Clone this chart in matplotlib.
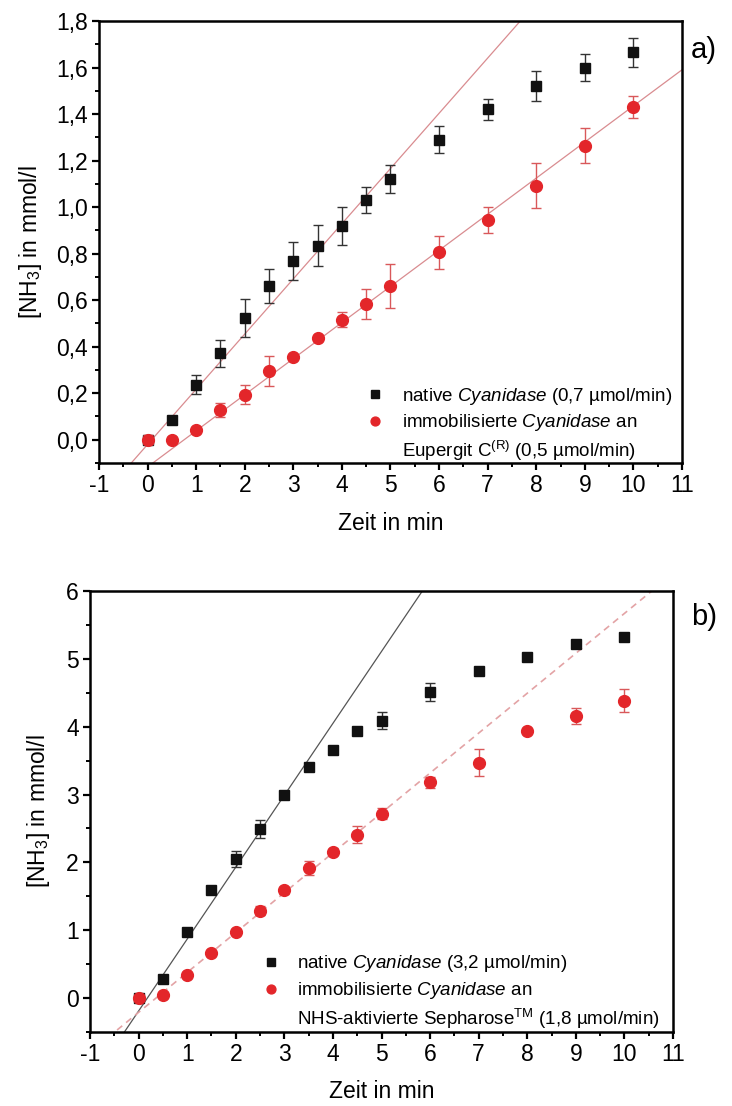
import numpy as np
import matplotlib
matplotlib.use("Agg")
import matplotlib.pyplot as plt
from matplotlib.ticker import MultipleLocator, FuncFormatter
from matplotlib.lines import Line2D

plt.rcParams['font.family'] = ['Liberation Sans', 'DejaVu Sans']
plt.rcParams['mathtext.fontset'] = 'custom'
plt.rcParams['mathtext.rm'] = 'Liberation Sans'
plt.rcParams['mathtext.it'] = 'Liberation Sans:italic'
plt.rcParams['mathtext.bf'] = 'Liberation Sans:bold'
plt.rcParams['axes.unicode_minus'] = False

# ---- panel a: native vs. Eupergit C immobilised cyanidase ----
time_a = [0, 0.5, 1, 1.5, 2, 2.5, 3, 3.5, 4, 4.5, 5, 6, 7, 8, 9, 10]
native_a = [0.0, 0.085, 0.237, 0.372, 0.523, 0.66, 0.767, 0.833, 0.918, 1.03,
            1.12, 1.29, 1.42, 1.52, 1.60, 1.665]
native_a_err = [0.01, 0.012, 0.04, 0.058, 0.08, 0.072, 0.082, 0.088, 0.081,
                0.055, 0.06, 0.057, 0.045, 0.065, 0.057, 0.062]
immob_a = [0.0, 0.0, 0.042, 0.128, 0.194, 0.294, 0.355, 0.437, 0.516, 0.585,
           0.661, 0.805, 0.944, 1.092, 1.263, 1.432]
immob_a_err = [0.02, 0.01, 0.01, 0.03, 0.04, 0.065, 0.01, 0.01, 0.033, 0.065,
               0.095, 0.07, 0.056, 0.097, 0.075, 0.047]
fit_native_a = (0.2373, -0.0205)   # slope, intercept
fit_immob_a = (0.1552, -0.117)

# ---- panel b: native vs. NHS-Sepharose immobilised cyanidase ----
time_b = [0, 0.5, 1, 1.5, 2, 2.5, 3, 3.5, 4, 4.5, 5, 6, 7, 8, 9, 10]
native_b = [0.0, 0.28, 0.975, 1.59, 2.05, 2.49, 2.99, 3.40, 3.66, 3.93,
            4.09, 4.51, 4.82, 5.03, 5.22, 5.32]
native_b_err = [0.05, 0.03, 0.03, 0.03, 0.12, 0.13, 0.03, 0.03, 0.03, 0.03,
                0.12, 0.13, 0.03, 0.03, 0.03, 0.03]
immob_b = [0.0, 0.05, 0.34, 0.66, 0.97, 1.29, 1.59, 1.92, 2.15, 2.41,
           2.72, 3.18, 3.47, 3.94, 4.16, 4.38]
immob_b_err = [0.05, 0.03, 0.03, 0.03, 0.03, 0.07, 0.05, 0.1, 0.03, 0.13,
               0.08, 0.08, 0.2, 0.03, 0.12, 0.17]
fit_native_b = (1.06, -0.19)
fit_immob_b = (0.588, -0.21)

xticks = list(range(-1, 12))

RED = '#e3262a'
RED_ERR = '#d9585a'

fig = plt.figure(figsize=(7.32, 11.06), dpi=100)
ax_a = fig.add_axes([0.1352, 0.5814, 0.7965, 0.3996])
ax_b = fig.add_axes([0.1230, 0.0669, 0.7964, 0.3987])


def style_axes(ax, ylim, ymajor, yminor, comma, xpad, ypad):
    ax.set_xlim(-1, 11)
    ax.set_ylim(*ylim)
    ax.set_xticks(xticks)
    ax.xaxis.set_minor_locator(MultipleLocator(0.5))
    ax.yaxis.set_major_locator(MultipleLocator(ymajor))
    ax.yaxis.set_minor_locator(MultipleLocator(yminor))
    if comma:
        ax.yaxis.set_major_formatter(
            FuncFormatter(lambda v, p: f"{v:.1f}".replace('.', ',').replace('-0,0', '0,0')))
    for s in ax.spines.values():
        s.set_linewidth(1.8)
    ax.tick_params(which='major', direction='out', length=5, width=1.6,
                   labelsize=16.5, pad=3, top=False, right=False)
    ax.tick_params(which='minor', direction='out', length=3, width=1.4,
                   top=False, right=False)
    ax.set_xlabel('Zeit in min', fontsize=16.5, labelpad=xpad)
    ax.set_ylabel('[NH$_3$] in mmol/l', fontsize=16.5, labelpad=ypad)


def fit_line(ax, fit, **kw):
    xs = np.array([-1.0, 11.0])
    ax.plot(xs, fit[0] * xs + fit[1], **kw)


legend_kw = dict(loc='lower right', frameon=False, fontsize=13.5,
                 handlelength=0.8, handletextpad=1.0, labelspacing=0.3,
                 borderpad=0.2, markerscale=0.75)

# panel a
fit_line(ax_a, fit_native_a, color='#d98c90', lw=0.9, zorder=1)
fit_line(ax_a, fit_immob_a, color='#d98c90', lw=0.9, zorder=1)
h1 = ax_a.errorbar(time_a, native_a, yerr=native_a_err, fmt='s', color='#111111',
                   ms=7.5, ecolor='#333333', elinewidth=1, capsize=3.5, capthick=1, zorder=3)
h2 = ax_a.errorbar(time_a, immob_a, yerr=immob_a_err, fmt='o', color=RED,
                   ms=8.5, ecolor=RED_ERR, elinewidth=1, capsize=3.5, capthick=1, zorder=4)
style_axes(ax_a, (-0.1, 1.8), 0.2, 0.1, True, xpad=11, ypad=9)
blank = Line2D([], [], linestyle='none')
ax_a.legend([h1[0], h2[0], blank],
            ['native $\\it{Cyanidase}$ (0,7 µmol/min)',
             'immobilisierte $\\it{Cyanidase}$ an',
             'Eupergit C$^{\\mathrm{(R)}}$ (0,5 µmol/min)'],
            bbox_to_anchor=(1.005, -0.03), **legend_kw)

# panel b
fit_line(ax_b, fit_native_b, color='#555555', lw=0.9, zorder=1)
fit_line(ax_b, fit_immob_b, color='#e3a3a5', lw=1.2, ls=(0, (4, 3)), zorder=1)
g1 = ax_b.errorbar(time_b, native_b, yerr=native_b_err, fmt='s', color='#111111',
                   ms=7.5, ecolor='#333333', elinewidth=1, capsize=3.5, capthick=1, zorder=3)
g2 = ax_b.errorbar(time_b, immob_b, yerr=immob_b_err, fmt='o', color=RED,
                   ms=8.5, ecolor=RED_ERR, elinewidth=1, capsize=3.5, capthick=1, zorder=4)
style_axes(ax_b, (-0.5, 6), 1, 0.5, False, xpad=10, ypad=10)
ax_b.legend([g1[0], g2[0], blank],
            ['native $\\it{Cyanidase}$ (3,2 µmol/min)',
             'immobilisierte $\\it{Cyanidase}$ an',
             'NHS-aktivierte Sepharose$^{\\mathrm{TM}}$ (1,8 µmol/min)'],
            bbox_to_anchor=(1.0, -0.027), **legend_kw)

fig.text(0.962, 0.955, 'a)', fontsize=21, ha='center', va='center')
fig.text(0.962, 0.442, 'b)', fontsize=21, ha='center', va='center')

fig.savefig('out.png', dpi=100)
